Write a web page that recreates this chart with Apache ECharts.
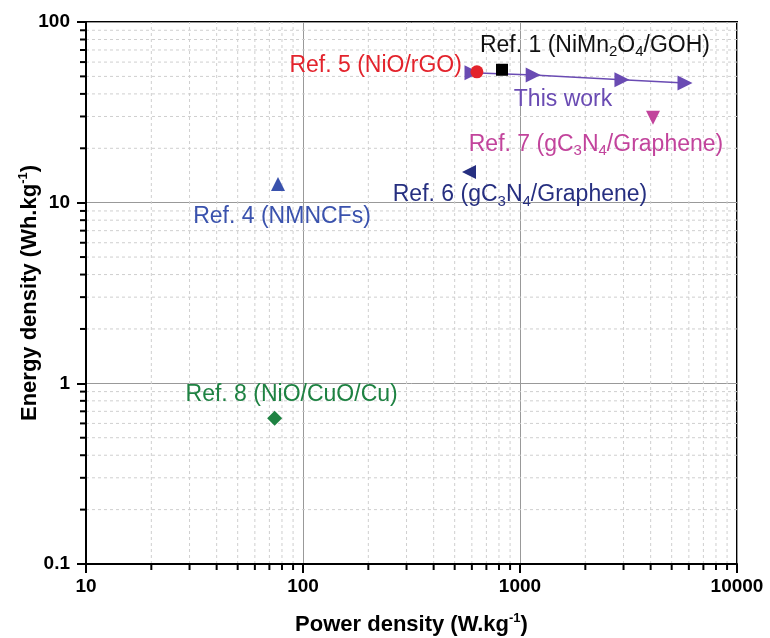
<!DOCTYPE html>
<html><head><meta charset="utf-8">
<script src="https://cdn.jsdelivr.net/npm/echarts@6/dist/echarts.min.js"></script>
<style>html,body{margin:0;padding:0;background:#fff}#c{width:770px;height:638px}</style>
</head><body><div id="c"></div>
<script>
// ---- data ----
const thisWorkPower = [601, 1150, 2950, 5760];
const thisWorkEnergy = [52.3, 50.9, 47.9, 46.0];
const ref1 = [826, 54.4];
const ref5 = [633, 53.0];
const ref7 = [4100, 29.5];
const ref6 = [582, 14.8];
const ref4 = [76.7, 12.7];
const ref8 = [74, 0.64];
const xMinor = [20,30,40,50,60,70,80,90,200,300,400,500,600,700,800,900,2000,3000,4000,5000,6000,7000,8000,9000];
const yMinor = [0.2,0.3,0.4,0.5,0.6,0.7,0.8,0.9,2,3,4,5,6,7,8,9,20,30,40,50,60,70,80,90];
const xRange = [10, 10000];
const yRange = [0.1, 100];

const FONT = '"Liberation Sans", Arial, sans-serif';
const LFS = 23;
function rich(color){
  return {
    t:{fontSize:LFS,color:color,fontFamily:FONT,lineHeight:28},
    s:{fontSize:15,color:color,fontFamily:FONT,lineHeight:28,verticalAlign:'bottom',padding:[12,0,0,0]}
  };
}
function lbl(text,color,offset,align){
  return {show:true,position:'inside',formatter:text,offset:offset,align:align||'center',verticalAlign:'middle',rich:rich(color),opacity:1};
}

const chart = echarts.init(document.getElementById('c'));
const axisBase = {
  type:'log', logBase:10,
  axisLine:{show:true,lineStyle:{color:'#000',width:2}},
  axisTick:{show:true,inside:false,length:9,lineStyle:{color:'#000',width:2}},
  axisLabel:{color:'#000',fontWeight:'bold',fontSize:19,fontFamily:FONT,formatter:function(v){return String(v);}},
  splitLine:{show:true,lineStyle:{color:'#999',width:1}},
  minorTick:{show:false}, minorSplitLine:{show:false}
};
const nameRich = {b:{fontSize:22,fontWeight:'bold',fontFamily:FONT,color:'#000',lineHeight:26},p:{fontSize:13,fontWeight:'bold',fontFamily:FONT,color:'#000',lineHeight:26,verticalAlign:'top'}};
chart.setOption({
  animation:false,
  backgroundColor:'#fff',
  grid:{left:86,right:33,top:22,bottom:74,outerBoundsMode:'none',show:true,borderColor:'#000',borderWidth:2,backgroundColor:'transparent'},
  xAxis:Object.assign({},axisBase,{min:xRange[0],max:xRange[1],
    axisLabel:Object.assign({},axisBase.axisLabel,{margin:13}),
    name:'{b|Power density (W.kg}{p|-1}{b|)}',nameLocation:'middle',nameGap:48,nameMoveOverlap:false,
    nameTextStyle:{rich:nameRich}
  }),
  yAxis:Object.assign({},axisBase,{min:yRange[0],max:yRange[1],
    axisLabel:Object.assign({},axisBase.axisLabel,{margin:16}),
    name:'{b|Energy density (Wh.kg}{p|-1}{b|)}',nameLocation:'middle',nameGap:43,nameRotate:90,nameMoveOverlap:false,
    nameTextStyle:{rich:nameRich}
  }),
  series:[
    {type:'custom',silent:true,clip:false,z:0,data:xMinor.map(v=>[v,1]),encode:{x:0,y:1},
      renderItem:function(p,api){const v=api.value(0);const a=api.coord([v,yRange[0]]);const b=api.coord([v,yRange[1]]);
        return {type:'line',shape:{x1:a[0],y1:a[1],x2:b[0],y2:b[1]},style:{stroke:'#cfcfcf',lineWidth:1,lineDash:[3,3]}};}},
    {type:'custom',silent:true,clip:false,z:0,data:yMinor.map(v=>[100,v]),encode:{x:0,y:1},
      renderItem:function(p,api){const v=api.value(1);const a=api.coord([xRange[0],v]);const b=api.coord([xRange[1],v]);
        return {type:'line',shape:{x1:a[0],y1:a[1],x2:b[0],y2:b[1]},style:{stroke:'#cfcfcf',lineWidth:1,lineDash:[3,3]}};}},
    {type:'custom',silent:true,clip:false,z:10,data:xMinor.map(v=>[v,1]),encode:{x:0,y:1},
      renderItem:function(p,api){const v=api.value(0);const a=api.coord([v,yRange[0]]);
        return {type:'line',shape:{x1:a[0],y1:a[1],x2:a[0],y2:a[1]+6},style:{stroke:'#000',lineWidth:2}};}},
    {type:'custom',silent:true,clip:false,z:10,data:yMinor.map(v=>[100,v]),encode:{x:0,y:1},
      renderItem:function(p,api){const v=api.value(1);const a=api.coord([xRange[0],v]);
        return {type:'line',shape:{x1:a[0],y1:a[1],x2:a[0]-6,y2:a[1]},style:{stroke:'#000',lineWidth:2}};}},
    {type:'line',z:3,symbol:'triangle',symbolRotate:-90,symbolSize:15,
      lineStyle:{color:'#6a4bb3',width:1.5},itemStyle:{color:'#6a4bb3',opacity:1},
      data:thisWorkPower.map((x,i)=>{const d={value:[x,thisWorkEnergy[i]]}; if(i===0){d.label=lbl('{t|This work}','#6a4bb3',[91,27]);} return d;}),
      label:{show:false}},
    {type:'scatter',z:4,symbol:'rect',symbolSize:12,itemStyle:{color:'#000',opacity:1},data:[ref1],
      label:lbl('{t|Ref. 1 (NiMn}{s|2}{t|O}{s|4}{t|/GOH)}','#111',[93,-24])},
    {type:'scatter',z:4,symbol:'circle',symbolSize:13,itemStyle:{color:'#e3232c',opacity:1},data:[ref5],
      label:lbl('{t|Ref. 5 (NiO/rGO)}','#e3232c',[-15,-6],'right')},
    {type:'scatter',z:4,symbol:'triangle',symbolRotate:180,symbolSize:14,itemStyle:{color:'#c2449c',opacity:1},data:[ref7],
      label:lbl('{t|Ref. 7 (gC}{s|3}{t|N}{s|4}{t|/Graphene)}','#c2449c',[-57,27])},
    {type:'scatter',z:4,symbol:'triangle',symbolRotate:90,symbolSize:14,itemStyle:{color:'#262f80',opacity:1},data:[ref6],
      label:lbl('{t|Ref. 6 (gC}{s|3}{t|N}{s|4}{t|/Graphene)}','#262f80',[51,23])},
    {type:'scatter',z:4,symbol:'triangle',symbolSize:14,itemStyle:{color:'#3a52ad',opacity:1},data:[ref4],
      label:lbl('{t|Ref. 4 (NMNCFs)}','#3a52ad',[4,33])},
    {type:'scatter',z:4,symbol:'diamond',symbolSize:15,itemStyle:{color:'#1e8242',opacity:1},data:[ref8],
      label:lbl('{t|Ref. 8 (NiO/CuO/Cu)}','#1e8242',[17,-24])}
  ]
});
</script></body></html>
